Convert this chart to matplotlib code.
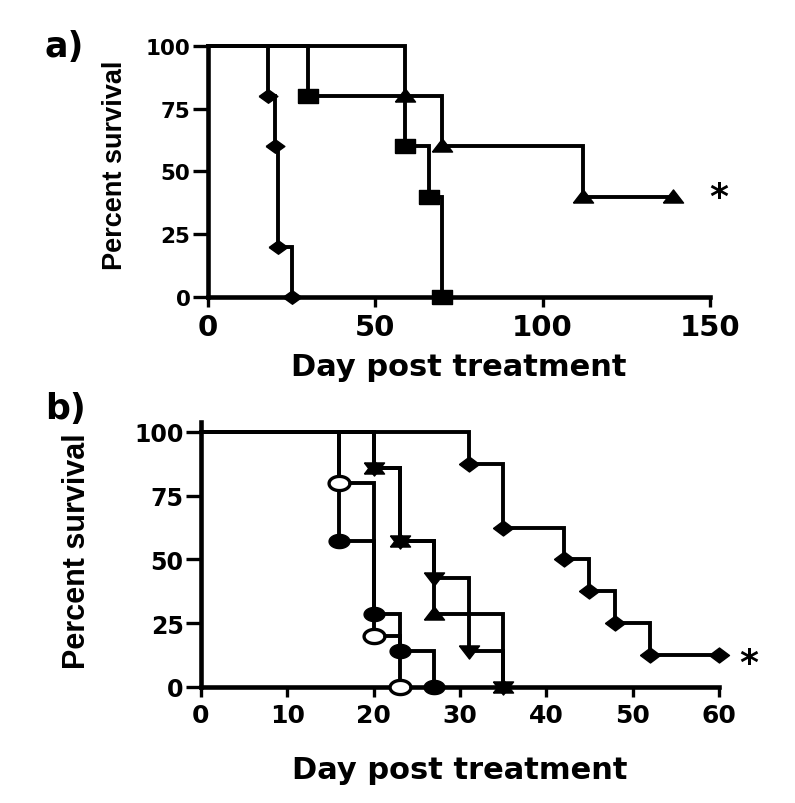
import numpy as np
import matplotlib
matplotlib.use("Agg")
import matplotlib.pyplot as plt

# panel a: Kaplan-Meier steps (day, percent survival)
a_diamond_day = [0, 18, 20, 21, 25]
a_diamond_pct = [100, 80, 60, 20, 0]
a_square_day = [0, 30, 59, 66, 70]
a_square_pct = [100, 80, 60, 40, 0]
a_triangle_day = [0, 59, 70, 112, 139]
a_triangle_pct = [100, 80, 60, 40, 40]

# panel b
b_circle_day = [0, 16, 20, 23, 27]
b_circle_pct = [100, 57.14, 28.57, 14.29, 0]
b_open_day = [0, 16, 20, 23]
b_open_pct = [100, 80, 20, 0]
b_down_day = [0, 20, 23, 27, 31, 35]
b_down_pct = [100, 85.71, 57.14, 42.86, 14.29, 0]
b_up_day = [0, 20, 23, 27, 35]
b_up_pct = [100, 85.71, 57.14, 28.57, 0]
b_diamond_day = [0, 31, 35, 42, 45, 48, 52, 60]
b_diamond_pct = [100, 87.5, 62.5, 50, 37.5, 25, 12.5, 12.5]

a_xticks = [0, 50, 100, 150]
b_xticks = [0, 10, 20, 30, 40, 50, 60]
yticks = [0, 25, 50, 75, 100]

BOLD = "DejaVu Sans"
LAB = "Liberation Sans"

# marker shapes (wide, since the figure is stretched horizontally)
def diamond(r):
    return [(-1, 0), (0, r), (1, 0), (0, -r), (-1, 0)]

def rect(r):
    return [(-1, -r), (1, -r), (1, r), (-1, r), (-1, -r)]

tri_up = [(-1, -0.55), (1, -0.55), (0, 0.75), (-1, -0.55)]
tri_down = [(-1, 0.55), (1, 0.55), (0, -0.75), (-1, 0.55)]
ang = np.linspace(0, 2 * np.pi, 60)
ellipse = list(zip(np.cos(ang), 0.68 * np.sin(ang)))

fig = plt.figure(figsize=(7.95, 8.04), dpi=100)
ax1 = fig.add_axes([0.2616, 0.6294, 0.6314, 0.3122])
ax2 = fig.add_axes([0.2528, 0.1443, 0.6516, 0.3299])


def km(ax, day, pct, marker, ms, mfc="black", mew=1.0):
    ax.step(day, pct, where="post", color="black", lw=2.8, clip_on=False,
            solid_joinstyle="miter")
    ax.plot(day[1:], pct[1:], ls="none", marker=marker, ms=ms, mfc=mfc,
            mec="black", mew=mew, clip_on=False, zorder=3)


km(ax1, a_diamond_day, a_diamond_pct, diamond(0.72), 13.5)
km(ax1, a_square_day, a_square_pct, rect(0.75), 14)
km(ax1, a_triangle_day, a_triangle_pct, tri_up, 14.5)

km(ax2, b_circle_day, b_circle_pct, ellipse, 15)
km(ax2, b_open_day, b_open_pct, ellipse, 15, mfc="white", mew=2.4)
km(ax2, b_down_day, b_down_pct, tri_down, 14.5)
km(ax2, b_up_day, b_up_pct, tri_up, 14.5)
km(ax2, b_diamond_day, b_diamond_pct, diamond(0.75), 14.4)

ax1.set_xlim(0, 150)
ax1.set_ylim(0, 100)
ax2.set_xlim(0, 60)
ax2.set_ylim(0, 104)

for ax, xt, xfs, yfs, lfs, lp in [(ax1, a_xticks, 21, 15.5, 19.5, 8),
                                  (ax2, b_xticks, 18, 17, 22, 20)]:
    ax.spines["top"].set_visible(False)
    ax.spines["right"].set_visible(False)
    ax.spines["left"].set_linewidth(3.3)
    ax.spines["bottom"].set_linewidth(3.3)
    ax.set_xticks(xt)
    ax.set_yticks(yticks)
    ax.tick_params(axis="x", direction="out", length=7.5, width=2.4, pad=4)
    ax.tick_params(axis="y", direction="out", length=10.5, width=2.4, pad=2)
    for lab in ax.get_xticklabels():
        lab.set_fontfamily(BOLD)
        lab.set_fontweight("bold")
        lab.set_fontsize(xfs)
    for lab in ax.get_yticklabels():
        lab.set_fontfamily(BOLD)
        lab.set_fontweight("bold")
        lab.set_fontsize(yfs)
    ax.set_xlabel("Day post treatment", fontfamily=BOLD, fontweight="bold",
                  fontsize=22, labelpad=lp)
    ax.set_ylabel("Percent survival", fontfamily=LAB, fontweight="bold",
                  fontsize=lfs)

ax1.yaxis.set_label_coords(-0.185, 0.53)
ax1.yaxis.label.set_va("center")
ax2.yaxis.set_label_coords(-0.24, 0.515)
ax2.yaxis.label.set_va("center")

ax1.text(152.7, 36, "*", fontfamily=BOLD, fontweight="bold", fontsize=26,
         ha="center", va="baseline")
ax2.text(63.4, 5.6, "*", fontfamily=BOLD, fontweight="bold", fontsize=26,
         ha="center", va="baseline")

fig.text(45 / 795, 1 - 57 / 804, "a)", fontfamily=BOLD, fontweight="bold",
         fontsize=25, ha="left", va="baseline")
fig.text(45 / 795, 1 - 419 / 804, "b)", fontfamily=BOLD, fontweight="bold",
         fontsize=25, ha="left", va="baseline")

fig.savefig("out.png", dpi=100, facecolor="white")
